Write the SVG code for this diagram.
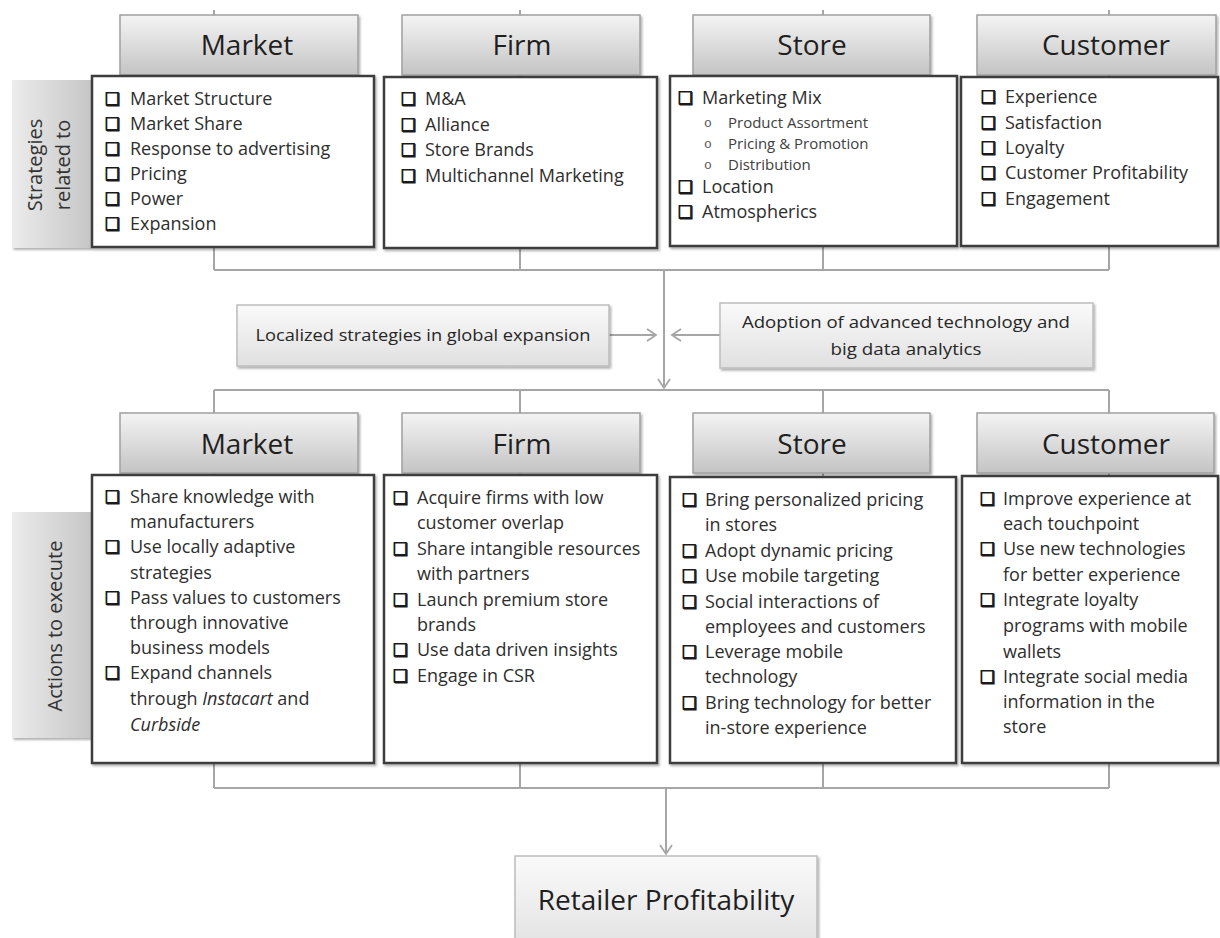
<svg xmlns="http://www.w3.org/2000/svg" width="1220" height="938" viewBox="0 0 1220 938">
  <style>
    .ln { stroke: #a6a6a6; stroke-width: 2; fill: none; }
    .hdr { fill: url(#gHdr); stroke: #a0a0a0; stroke-width: 1.5; filter: url(#shadow); }
    .box { fill: #ffffff; stroke: #3c3c3c; stroke-width: 2.5; filter: url(#shadow); }
    .side { fill: url(#gSide); stroke: none; filter: url(#shadow); }
    .mid { fill: url(#gMid); stroke: #bdbdbd; stroke-width: 1.5; filter: url(#shadow); }
    .ht { font-family: "Open Sans", "Liberation Sans", sans-serif; font-size: 28px; fill: #1f1f1f; text-anchor: middle; }
    .t { font-family: "Open Sans", "Liberation Sans", sans-serif; font-size: 18px; fill: #2e2e2e; }
    .sub { font-family: "Open Sans", "Liberation Sans", sans-serif; font-size: 15px; fill: #404040; }
    .o { font-family: "Liberation Mono", monospace; font-size: 13px; fill: #555555; }
    .cb { font-family: "DejaVu Sans", sans-serif; font-size: 17px; font-weight: bold; fill: #1a1a1a; stroke: #1a1a1a; stroke-width: 0.9; }
    .st { font-family: "Open Sans", "Liberation Sans", sans-serif; font-size: 20px; fill: #333333; text-anchor: middle; }
    .mt { font-family: "Open Sans", "Liberation Sans", sans-serif; font-size: 17px; fill: #262626; text-anchor: middle; }
  </style>
  <defs>
    <linearGradient id="gHdr" x1="0" y1="0" x2="0" y2="1">
      <stop offset="0" stop-color="#f4f4f4"/>
      <stop offset="1" stop-color="#c4c4c4"/>
    </linearGradient>
    <linearGradient id="gSide" x1="0" y1="0" x2="1" y2="0">
      <stop offset="0" stop-color="#ececec"/>
      <stop offset="1" stop-color="#c6c6c6"/>
    </linearGradient>
    <linearGradient id="gMid" x1="0" y1="0" x2="0" y2="1">
      <stop offset="0" stop-color="#fafafa"/>
      <stop offset="1" stop-color="#e0e0e0"/>
    </linearGradient>
    <filter id="shadow" x="-5%" y="-5%" width="110%" height="115%">
      <feDropShadow dx="1.5" dy="2" stdDeviation="1.2" flood-color="#000" flood-opacity="0.3"/>
    </filter>
    <marker id="arr" markerUnits="userSpaceOnUse" markerWidth="14" markerHeight="14" viewBox="-10 -7 12 14" refX="0" refY="0" orient="auto">
      <path d="M-9,-6 L0,0 L-9,6" fill="none" stroke="#a6a6a6" stroke-width="1.8"/>
    </marker>
  </defs>

  <rect width="1220" height="938" fill="#ffffff"/>

  <!-- connectors -->
  <g id="connectors">
    <path class="ln" d="M214,10 V270 M520,10 V270 M823,10 V270 M1109,10 V270 M214,270 H1109"/>
    <path class="ln" d="M664,270 V388" marker-end="url(#arr)"/>
    <path class="ln" d="M609,335 H656" marker-end="url(#arr)"/>
    <path class="ln" d="M720,335 H672" marker-end="url(#arr)"/>
    <path class="ln" d="M214,390 H1109 M214,390 V788 M520,390 V788 M823,390 V788 M1109,390 V788 M214,788 H1109"/>
    <path class="ln" d="M666,788 V854" marker-end="url(#arr)"/>
  </g>

  <!-- row labels -->
  <g id="label-strategies">
    <rect class="side" x="12" y="80" width="79" height="168"/>
    <text class="st" transform="translate(42,165) rotate(-90)">Strategies</text>
    <text class="st" transform="translate(70,165) rotate(-90)">related to</text>
  </g>
  <g id="label-actions">
    <rect class="side" x="12" y="512" width="79" height="226"/>
    <text class="st" transform="translate(62,626) rotate(-90)">Actions to execute</text>
  </g>

  <!-- strategies: Market -->
  <g id="s-market">
    <rect class="hdr" x="120" y="15" width="238" height="60"/>
    <text class="ht" x="247" y="55">Market</text>
    <rect class="box" x="92" y="76" width="282" height="171"/>
    <g class="cb"><text x="105" y="105">❑</text><text x="105" y="130">❑</text><text x="105" y="155">❑</text><text x="105" y="180">❑</text><text x="105" y="205">❑</text><text x="105" y="230">❑</text></g>
    <text class="t" x="130" y="105">Market Structure</text>
    <text class="t" x="130" y="130">Market Share</text>
    <text class="t" x="130" y="155">Response to advertising</text>
    <text class="t" x="130" y="180">Pricing</text>
    <text class="t" x="130" y="205">Power</text>
    <text class="t" x="130" y="230">Expansion</text>
  </g>

  <!-- strategies: Firm -->
  <g id="s-firm">
    <rect class="hdr" x="402" y="15" width="238" height="60"/>
    <text class="ht" x="522" y="55">Firm</text>
    <rect class="box" x="384" y="77" width="273" height="171"/>
    <g class="cb"><text x="401" y="105">❑</text><text x="401" y="131">❑</text><text x="401" y="156">❑</text><text x="401" y="182">❑</text></g>
    <text class="t" x="425" y="105">M&amp;A</text>
    <text class="t" x="425" y="131">Alliance</text>
    <text class="t" x="425" y="156">Store Brands</text>
    <text class="t" x="425" y="182">Multichannel Marketing</text>
  </g>

  <!-- strategies: Store -->
  <g id="s-store">
    <rect class="hdr" x="693" y="15" width="237" height="60"/>
    <text class="ht" x="812" y="55">Store</text>
    <rect class="box" x="670" y="76" width="287" height="170"/>
    <g class="cb"><text x="678" y="104">❑</text><text x="678" y="193">❑</text><text x="678" y="218">❑</text></g>
    <text class="t" x="702" y="104">Marketing Mix</text>
    <g class="o"><text x="704" y="127">o</text><text x="704" y="148">o</text><text x="704" y="169">o</text></g>
    <text class="sub" x="728" y="128">Product Assortment</text>
    <text class="sub" x="728" y="149">Pricing &amp; Promotion</text>
    <text class="sub" x="728" y="170">Distribution</text>
    <text class="t" x="702" y="193">Location</text>
    <text class="t" x="702" y="218">Atmospherics</text>
  </g>

  <!-- strategies: Customer -->
  <g id="s-customer">
    <rect class="hdr" x="977" y="15" width="239" height="60"/>
    <text class="ht" x="1106" y="55">Customer</text>
    <rect class="box" x="961" y="77" width="257" height="169"/>
    <g class="cb"><text x="981" y="103">❑</text><text x="981" y="129">❑</text><text x="981" y="154">❑</text><text x="981" y="179">❑</text><text x="981" y="205">❑</text></g>
    <text class="t" x="1005" y="103">Experience</text>
    <text class="t" x="1005" y="129">Satisfaction</text>
    <text class="t" x="1005" y="154">Loyalty</text>
    <text class="t" x="1005" y="179">Customer Profitability</text>
    <text class="t" x="1005" y="205">Engagement</text>
  </g>

  <!-- moderating factors -->
  <g id="localized">
    <rect class="mid" x="237" y="305" width="372" height="61"/>
    <text class="mt" x="423" y="341" textLength="335" lengthAdjust="spacingAndGlyphs">Localized strategies in global expansion</text>
  </g>
  <g id="technology">
    <rect class="mid" x="720" y="303" width="373" height="65"/>
    <text class="mt" x="906" y="328" textLength="328" lengthAdjust="spacingAndGlyphs">Adoption of advanced technology and</text>
    <text class="mt" x="906" y="355" textLength="151" lengthAdjust="spacingAndGlyphs">big data analytics</text>
  </g>

  <!-- actions: Market -->
  <g id="a-market">
    <rect class="hdr" x="120" y="413" width="238" height="60"/>
    <text class="ht" x="247" y="454">Market</text>
    <rect class="box" x="92" y="475" width="282" height="288"/>
    <g class="cb"><text x="105" y="503">❑</text><text x="105" y="553">❑</text><text x="105" y="604">❑</text><text x="105" y="679">❑</text></g>
    <text class="t" x="130" y="503">Share knowledge with</text>
    <text class="t" x="130" y="528">manufacturers</text>
    <text class="t" x="130" y="553">Use locally adaptive</text>
    <text class="t" x="130" y="579">strategies</text>
    <text class="t" x="130" y="604">Pass values to customers</text>
    <text class="t" x="130" y="629">through innovative</text>
    <text class="t" x="130" y="654">business models</text>
    <text class="t" x="130" y="679">Expand channels</text>
    <text class="t" x="130" y="705">through <tspan font-style="italic">Instacart</tspan> and</text>
    <text class="t" x="130" y="731" font-style="italic">Curbside</text>
  </g>

  <!-- actions: Firm -->
  <g id="a-firm">
    <rect class="hdr" x="402" y="413" width="238" height="60"/>
    <text class="ht" x="522" y="454">Firm</text>
    <rect class="box" x="384" y="475" width="273" height="288"/>
    <g class="cb"><text x="393" y="504">❑</text><text x="393" y="555">❑</text><text x="393" y="606">❑</text><text x="393" y="656">❑</text><text x="393" y="682">❑</text></g>
    <text class="t" x="417" y="504">Acquire firms with low</text>
    <text class="t" x="417" y="529">customer overlap</text>
    <text class="t" x="417" y="555">Share intangible resources</text>
    <text class="t" x="417" y="580">with partners</text>
    <text class="t" x="417" y="606">Launch premium store</text>
    <text class="t" x="417" y="631">brands</text>
    <text class="t" x="417" y="656">Use data driven insights</text>
    <text class="t" x="417" y="682">Engage in CSR</text>
  </g>

  <!-- actions: Store -->
  <g id="a-store">
    <rect class="hdr" x="693" y="413" width="237" height="60"/>
    <text class="ht" x="812" y="454">Store</text>
    <rect class="box" x="670" y="477" width="286" height="286"/>
    <g class="cb"><text x="682" y="506">❑</text><text x="682" y="557">❑</text><text x="682" y="582">❑</text><text x="682" y="608">❑</text><text x="682" y="658">❑</text><text x="682" y="709">❑</text></g>
    <text class="t" x="705" y="506">Bring personalized pricing</text>
    <text class="t" x="705" y="531">in stores</text>
    <text class="t" x="705" y="557">Adopt dynamic pricing</text>
    <text class="t" x="705" y="582">Use mobile targeting</text>
    <text class="t" x="705" y="608">Social interactions of</text>
    <text class="t" x="705" y="633">employees and customers</text>
    <text class="t" x="705" y="658">Leverage mobile</text>
    <text class="t" x="705" y="683">technology</text>
    <text class="t" x="705" y="709">Bring technology for better</text>
    <text class="t" x="705" y="734">in-store experience</text>
  </g>

  <!-- actions: Customer -->
  <g id="a-customer">
    <rect class="hdr" x="977" y="413" width="237" height="60"/>
    <text class="ht" x="1106" y="454">Customer</text>
    <rect class="box" x="962" y="476" width="256" height="287"/>
    <g class="cb"><text x="980" y="505">❑</text><text x="980" y="555">❑</text><text x="980" y="606">❑</text><text x="980" y="683">❑</text></g>
    <text class="t" x="1003" y="505">Improve experience at</text>
    <text class="t" x="1003" y="530">each touchpoint</text>
    <text class="t" x="1003" y="555">Use new technologies</text>
    <text class="t" x="1003" y="581">for better experience</text>
    <text class="t" x="1003" y="606">Integrate loyalty</text>
    <text class="t" x="1003" y="632">programs with mobile</text>
    <text class="t" x="1003" y="658">wallets</text>
    <text class="t" x="1003" y="683">Integrate social media</text>
    <text class="t" x="1003" y="708">information in the</text>
    <text class="t" x="1003" y="733">store</text>
  </g>

  <!-- outcome -->
  <g id="profitability">
    <rect class="mid" x="515" y="856" width="302" height="100"/>
    <text class="ht" x="666" y="910">Retailer Profitability</text>
  </g>
</svg>
